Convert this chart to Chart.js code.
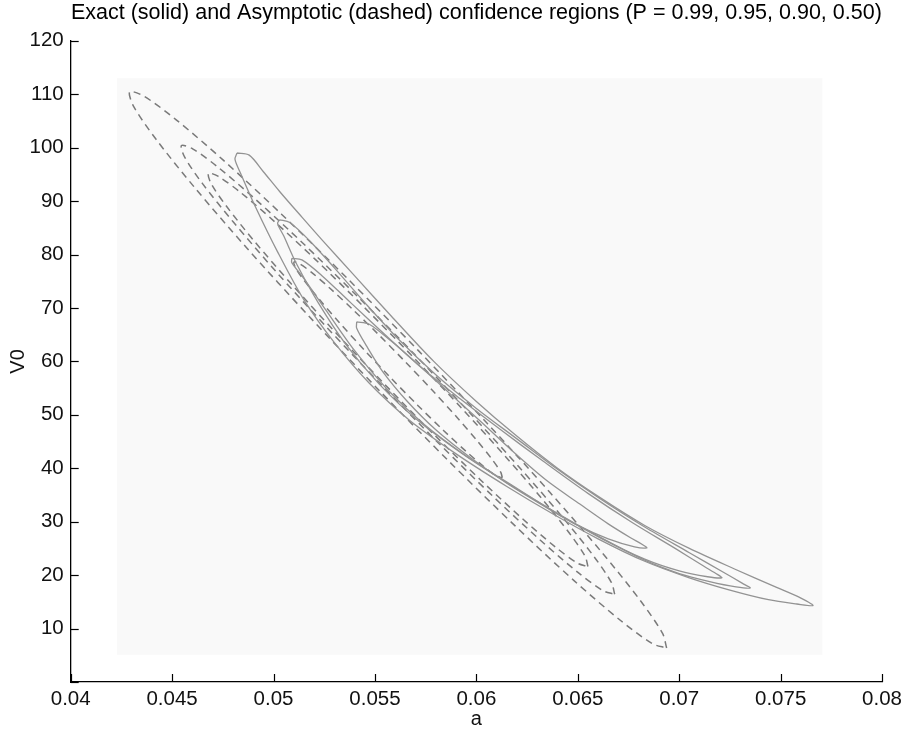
<!DOCTYPE html>
<html>
<head>
<meta charset="utf-8">
<script src="https://cdn.jsdelivr.net/npm/chart.js@4.4.0/dist/chart.umd.min.js"></script>
<style>
  body { margin: 0; background: #fff; }
  #chart-area { display: block; }
</style>
</head>
<body>
<canvas id="chart-area" width="907" height="731"></canvas>
<script>
// exact regions (solid), points as [a, V0]
const exact99 = [
  [0.0482, 99.0], [0.0488, 98.6], [0.0495, 95.5], [0.0503, 91.8], [0.0514, 87.0],
  [0.0524, 82.7], [0.0540, 76.0], [0.0558, 68.5], [0.0579, 60.0], [0.0600, 52.5],
  [0.0619, 46.3], [0.0640, 40.0], [0.0661, 34.5], [0.0683, 29.3], [0.0705, 25.0],
  [0.0727, 21.2], [0.0748, 17.7], [0.0760, 15.7], [0.0766, 14.3],
  [0.0758, 14.6], [0.0744, 15.4], [0.0725, 17.2], [0.0705, 19.5], [0.0683, 22.6],
  [0.0660, 26.8], [0.0638, 31.4], [0.0615, 36.6], [0.0590, 42.7], [0.0567, 49.0],
  [0.0547, 56.0], [0.0530, 63.5], [0.0515, 71.5], [0.0502, 80.5], [0.0491, 89.0],
  [0.0484, 95.0], [0.0481, 97.8], [0.0482, 99.0]
];
const exact95 = [
  [0.0503, 86.5], [0.0508, 86.0], [0.0518, 82.5], [0.0530, 77.5], [0.0545, 71.0],
  [0.0562, 64.0], [0.0580, 57.5], [0.0600, 51.2], [0.0620, 45.5], [0.0640, 39.8],
  [0.0661, 34.3], [0.0683, 29.0], [0.0705, 24.2], [0.0722, 20.5], [0.0731, 18.5],
  [0.0735, 17.6],
  [0.0728, 17.8], [0.0715, 18.8], [0.0700, 20.3], [0.0683, 22.8], [0.0660, 27.3],
  [0.0638, 32.0], [0.0615, 37.3], [0.0592, 43.0], [0.0570, 49.3], [0.0552, 55.8],
  [0.0536, 63.0], [0.0522, 71.0], [0.0511, 78.5], [0.0505, 83.5], [0.0502, 85.8],
  [0.0503, 86.5]
];
const exact90 = [
  [0.0509, 79.3], [0.0514, 79.0], [0.0524, 76.0], [0.0538, 71.0], [0.0555, 65.0],
  [0.0573, 58.8], [0.0592, 53.0], [0.0612, 47.2], [0.0633, 41.3], [0.0655, 35.3],
  [0.0677, 29.8], [0.0698, 25.0], [0.0712, 21.7], [0.0719, 20.1], [0.0721, 19.5],
  [0.0714, 19.7], [0.0700, 20.8], [0.0683, 23.0], [0.0662, 26.8], [0.0640, 31.5],
  [0.0618, 36.7], [0.0595, 42.3], [0.0574, 48.3], [0.0556, 54.8], [0.0540, 62.0],
  [0.0526, 69.5], [0.0515, 75.5], [0.0509, 78.5], [0.0509, 79.3]
];
const exact50 = [
  [0.0541, 67.4], [0.0547, 67.0], [0.0558, 63.8], [0.0571, 59.5], [0.0586, 54.3],
  [0.0602, 48.8], [0.0619, 42.8], [0.0635, 37.6], [0.0651, 33.3], [0.0665, 29.6],
  [0.0676, 27.0], [0.0682, 25.7], [0.0684, 25.1],
  [0.0678, 25.3], [0.0665, 26.8], [0.0650, 29.3], [0.0633, 33.0], [0.0615, 37.2],
  [0.0597, 42.0], [0.0580, 47.2], [0.0566, 52.5], [0.0554, 58.0], [0.0546, 62.8],
  [0.0541, 66.2], [0.0541, 67.4]
];

// asymptotic regions (dashed)
const asym99 = [
  [0.06938, 6.36], [0.06918, 9.08], [0.06810, 15.16], [0.06620, 24.19], [0.06361, 35.55],
  [0.06052, 48.46], [0.05713, 62.06], [0.05367, 75.41], [0.05038, 87.60], [0.04748, 97.80],
  [0.04517, 105.31], [0.04361, 109.63], [0.04291, 110.46], [0.04310, 107.74], [0.04419, 101.66],
  [0.04609, 92.63], [0.04867, 81.27], [0.05177, 68.36], [0.05516, 54.76], [0.05862, 41.41],
  [0.06191, 29.22], [0.06480, 19.02], [0.06711, 11.51], [0.06867, 7.19], [0.06938, 6.36]
];
const asym95 = [
  [0.06682, 16.41], [0.06666, 18.60], [0.06579, 23.51], [0.06426, 30.79], [0.06217, 39.96],
  [0.05967, 50.38], [0.05694, 61.36], [0.05415, 72.13], [0.05149, 81.97], [0.04915, 90.20],
  [0.04729, 96.26], [0.04603, 99.74], [0.04546, 100.41], [0.04562, 98.22], [0.04649, 93.31],
  [0.04803, 86.03], [0.05011, 76.86], [0.05261, 66.44], [0.05535, 55.46], [0.05814, 44.69],
  [0.06079, 34.85], [0.06313, 26.62], [0.06499, 20.56], [0.06625, 17.08], [0.06682, 16.41]
];
const asym90 = [
  [0.06550, 21.61], [0.06536, 23.53], [0.06459, 27.83], [0.06325, 34.22], [0.06142, 42.25],
  [0.05924, 51.38], [0.05684, 60.99], [0.05439, 70.43], [0.05207, 79.05], [0.05002, 86.26],
  [0.04839, 91.57], [0.04728, 94.62], [0.04679, 95.21], [0.04692, 93.29], [0.04769, 88.99],
  [0.04903, 82.60], [0.05086, 74.57], [0.05305, 65.44], [0.05545, 55.83], [0.05789, 46.39],
  [0.06022, 37.77], [0.06227, 30.56], [0.06390, 25.25], [0.06500, 22.20], [0.06550, 21.61]
];
const asym50 = [
  [0.06128, 38.21], [0.06120, 39.27], [0.06078, 41.63], [0.06004, 45.13], [0.05904, 49.54],
  [0.05784, 54.55], [0.05652, 59.83], [0.05518, 65.01], [0.05390, 69.74], [0.05278, 73.69],
  [0.05189, 76.61], [0.05128, 78.28], [0.05101, 78.61], [0.05108, 77.55], [0.05150, 75.19],
  [0.05224, 71.69], [0.05324, 67.28], [0.05444, 62.27], [0.05576, 56.99], [0.05710, 51.81],
  [0.05838, 47.08], [0.05950, 43.13], [0.06040, 40.21], [0.06100, 38.54], [0.06128, 38.21]
];

// light grid area behind the contours
const gridA = [0.04227, 0.07707];
const gridV = [5.1, 113.0];

const xRange = [0.04, 0.08];
const yRange = [0, 120];

const toPts = arr => arr.map(p => ({ x: p[0], y: p[1] }));

const solid = (d) => ({
  data: toPts(d), showLine: true, pointRadius: 0, borderColor: '#939393',
  borderWidth: 1.3, tension: 0.3, fill: false, order: 1
});
const dashed = (d) => ({
  data: toPts(d), showLine: true, pointRadius: 0, borderColor: '#7a7a7a',
  borderWidth: 1.5, borderDash: [7, 5], tension: 0.3, fill: false, order: 2
});

const inwardTicks = {
  id: 'inwardTicks',
  afterDraw(chart) {
    const { ctx, chartArea, scales: { x, y } } = chart;
    ctx.save();
    ctx.strokeStyle = '#000';
    ctx.lineWidth = 1.2;
    x.ticks.forEach((t, i) => {
      const px = Math.round(x.getPixelForTick(i)) + 0.5;
      ctx.beginPath();
      ctx.moveTo(px, chartArea.bottom);
      ctx.lineTo(px, chartArea.bottom - 8);
      ctx.stroke();
    });
    y.ticks.forEach((t, i) => {
      const py = Math.round(y.getPixelForTick(i)) + 0.5;
      ctx.beginPath();
      ctx.moveTo(chartArea.left, py);
      ctx.lineTo(chartArea.left + 8, py);
      ctx.stroke();
    });
    ctx.restore();
  }
};

const fontFam = '"Liberation Sans", Arial, Helvetica, sans-serif';

window.onload = function() {
  let ctx = document.getElementById('chart-area').getContext('2d');
  new Chart(ctx, {
    type: 'scatter',
    data: {
      datasets: [
        solid(exact99), solid(exact95), solid(exact90), solid(exact50),
        dashed(asym99), dashed(asym95), dashed(asym90), dashed(asym50),
        {
          data: [{ x: gridA[0], y: gridV[1] }, { x: gridA[1], y: gridV[1] }],
          showLine: true, pointRadius: 0, borderWidth: 0, borderColor: 'rgba(0,0,0,0)',
          backgroundColor: '#f9f9f9', fill: { value: gridV[0] }, order: 10
        }
      ]
    },
    options: {
      responsive: false,
      animation: false,
      layout: { padding: { left: 0, right: 20, top: 0, bottom: 0 } },
      plugins: {
        legend: { display: false },
        tooltip: { enabled: false },
        title: {
          display: true,
          fullSize: false,
          text: 'Exact (solid) and Asymptotic (dashed) confidence regions (P = 0.99, 0.95, 0.90, 0.50)',
          color: '#000',
          font: { family: fontFam, size: 21.5, weight: 'normal' },
          padding: { top: 0, bottom: 15 }
        }
      },
      scales: {
        x: {
          type: 'linear',
          min: xRange[0], max: xRange[1],
          afterFit: s => { s.height = 49; },
          grid: { display: false, drawTicks: false },
          border: { display: true, color: '#000', width: 1.3 },
          ticks: {
            stepSize: 0.005, padding: 5, color: '#111',
            font: { family: fontFam, size: 20.5 },
            maxRotation: 0,
            callback: v => String(Number(v.toFixed(3)))
          },
          title: {
            display: true, text: 'a', color: '#111',
            font: { family: fontFam, size: 20 },
            padding: { top: 0, bottom: 0 }
          }
        },
        y: {
          type: 'linear',
          min: yRange[0], max: yRange[1],
          afterFit: s => { s.width = 70.7; },
          grid: { display: false, drawTicks: false },
          border: { display: true, color: '#000', width: 1.3 },
          ticks: {
            stepSize: 10, padding: 7, color: '#111',
            font: { family: fontFam, size: 20.5 },
            callback: v => (v === 0 ? '' : String(v))
          },
          title: {
            display: true, text: 'V0', color: '#111',
            font: { family: fontFam, size: 20 },
            padding: { top: 6, bottom: 0 }
          }
        }
      }
    },
    plugins: [inwardTicks]
  });
};
</script>
</body>
</html>
